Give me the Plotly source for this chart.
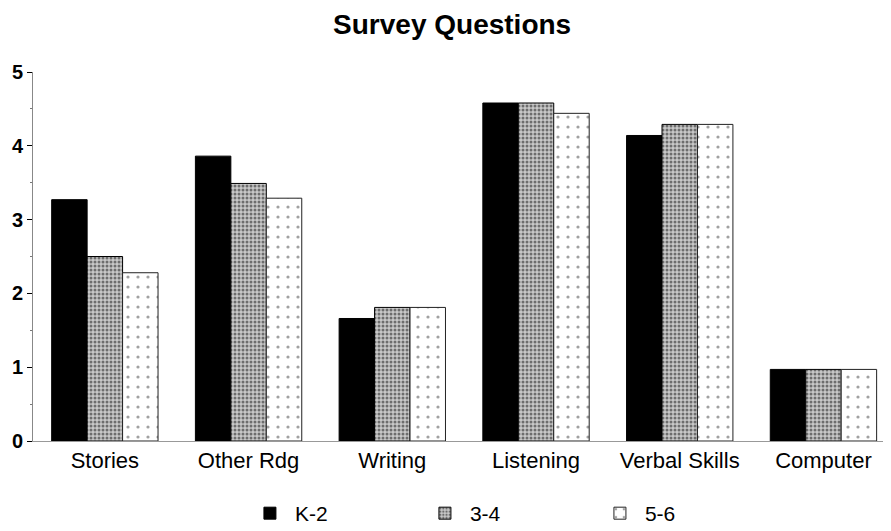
import plotly.graph_objects as go

categories = ["Stories", "Other Rdg", "Writing", "Listening", "Verbal Skills", "Computer"]
k2 = [3.27, 3.86, 1.66, 4.58, 4.14, 0.97]
g34 = [2.5, 3.49, 1.81, 4.58, 4.29, 0.97]
g56 = [2.28, 3.29, 1.81, 4.44, 4.29, 0.97]
series_names = ["K-2", "3-4", "5-6"]
y_ticks = [0, 1, 2, 3, 4, 5]

FONT = "Liberation Sans, Arial, sans-serif"

fig = go.Figure()
fig.add_trace(go.Bar(
    x=categories, y=k2, name=series_names[0],
    marker=dict(color="black", line=dict(color="black", width=1)),
))
fig.add_trace(go.Bar(
    x=categories, y=g34, name=series_names[1],
    marker=dict(color="white", line=dict(color="black", width=1),
                pattern=dict(shape=".", fgcolor="#111", bgcolor="#c8c8c8", size=4, solidity=0.45)),
))
fig.add_trace(go.Bar(
    x=categories, y=g56, name=series_names[2],
    marker=dict(color="white", line=dict(color="#222", width=1),
                pattern=dict(shape=".", fgcolor="#444", bgcolor="white", size=10, solidity=0.08)),
))

# page body has an 8px margin, so the figure is sized/positioned to compensate
fig.update_layout(
    width=883, height=523,
    barmode="group", bargap=0.26, bargroupgap=0,
    paper_bgcolor="white", plot_bgcolor="white",
    margin=dict(l=25, r=0, t=64, b=90, autoexpand=False),
    font=dict(family=FONT, color="black", size=22),
    title=dict(text="<b>Survey Questions</b>", x=0.503, xanchor="center", xref="container",
               y=0.969, yanchor="middle", yref="container",
               font=dict(size=28, color="black", family=FONT)),
    showlegend=True,
    legend=dict(orientation="h", x=0.247, xanchor="left", y=-0.141, yanchor="top",
                font=dict(size=21, family=FONT), itemwidth=40, tracegroupgap=0,
                entrywidth=120, entrywidthmode="pixels"),
    xaxis=dict(range=[-0.5, 5.47], showgrid=False, showline=True, linecolor="#999", linewidth=1,
               ticks="", tickfont=dict(size=22, family=FONT), automargin=False),
    yaxis=dict(range=[0, 5], tickvals=y_ticks, showgrid=False, zeroline=False,
               showline=True, linecolor="#888", linewidth=1,
               ticks="outside", ticklen=5, tickcolor="black",
               minor=dict(dtick=0.5, ticks="outside", ticklen=2, tickcolor="#777"),
               tickfont=dict(size=20, family=FONT, weight="bold"), automargin=False),
)

fig.write_html("out.html")
